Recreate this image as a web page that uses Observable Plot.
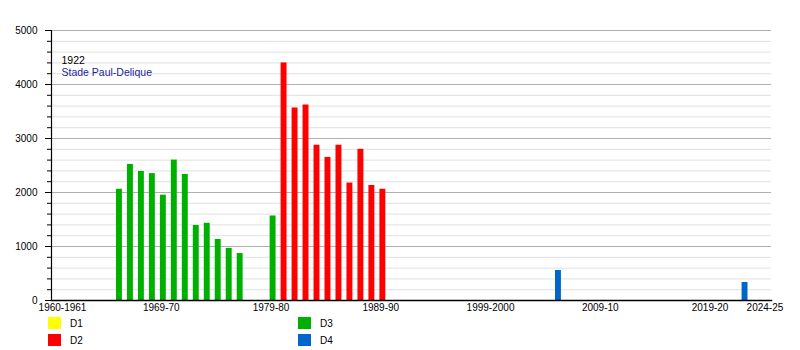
<!DOCTYPE html>
<html><head><meta charset="utf-8">
<script src="https://cdn.jsdelivr.net/npm/d3@7"></script>
<script src="https://cdn.jsdelivr.net/npm/@observablehq/plot@0.6"></script>
<style>
body{margin:0;background:#fff;font-family:"Liberation Sans",Arial,sans-serif;}
#wrap{position:relative;width:800px;height:350px;overflow:hidden;}
.sw{position:absolute;width:13px;height:12px;}
.lt{position:absolute;font-size:10px;color:#000;line-height:12px;}
</style></head><body><div id="wrap"></div>
<script>
// Season start years (e.g. 1965 = 1965-66)
const years = [1965,1966,1967,1968,1969,1970,1971,1972,1973,1974,1975,1976,
               1979,
               1980,1981,1982,1983,1984,1985,1986,1987,1988,1989,
               2005,2022];
const attendance = [2060,2520,2390,2350,1950,2600,2335,1390,1430,1130,965,870,
                    1565,
                    4400,3565,3620,2875,2650,2875,2175,2800,2130,2060,
                    556,334];
const divisionOf = ["D3","D3","D3","D3","D3","D3","D3","D3","D3","D3","D3","D3",
                    "D3",
                    "D2","D2","D2","D2","D2","D2","D2","D2","D2","D2",
                    "D4","D4"];
const divisionNames = ["D1","D2","D3","D4"];
const divisionColors = ["#ffff00","#ff0000","#00b000","#0066cc"];
const tickYears = [1960,1969,1979,1989,1999,2009,2019,2024];
const tickLabels = ["1960-1961","1969-70","1979-80","1989-90","1999-2000","2009-10","2019-20","2024-25"];
const majorTicks = [0,1000,2000,3000,4000,5000];
const minorTicks = [200,400,600,800,1200,1400,1600,1800,2200,2400,2600,2800,3200,3400,3600,3800,4200,4400,4600,4800];
const noteYear = "1922";
const noteStadium = "Stade Paul-Delique";

const data = years.map((y, i) => ({year: y, value: attendance[i], division: divisionOf[i]}));
const labelOf = new Map(tickYears.map((y, i) => [y, tickLabels[i]]));

const chart = Plot.plot({
  width: 800, height: 350,
  marginLeft: 51, marginRight: 29, marginTop: 30, marginBottom: 50,
  style: {fontFamily: '"Liberation Sans", Arial, sans-serif', fontSize: "10px", color: "#000", background: "transparent"},
  x: {domain: [1959, 2024.6], label: null},
  y: {domain: [0, 5000], label: null},
  color: {domain: divisionNames, range: divisionColors},
  marks: [
    Plot.ruleY(minorTicks, {stroke: "#e0e0e0", strokeWidth: 1}),
    Plot.ruleY(majorTicks.slice(1), {stroke: "#b0b0b0", strokeWidth: 1}),
    Plot.rectY(data, {x1: d => d.year - 0.08, x2: d => d.year + 0.46, y: "value", fill: "division", inset: 0}),
    Plot.axisY({ticks: majorTicks, tickSize: 6, tickPadding: 8, tickFormat: d => String(d), stroke: "#000", label: null}),
    Plot.axisY({ticks: minorTicks, tickSize: 4, tickFormat: () => "", stroke: "#000", label: null}),
    Plot.axisX({ticks: tickYears, tickSize: 0, tickPadding: 3, tickFormat: d => labelOf.get(d), label: null}),
    Plot.frame({anchor: "left", stroke: "#000", strokeWidth: 1.2}),
    Plot.frame({anchor: "bottom", stroke: "#000", strokeWidth: 1.5}),
    Plot.text([noteYear], {frameAnchor: "top-left", dx: 10, dy: 26, fill: "#000", fontSize: 10.5, textAnchor: "start"}),
    Plot.text([noteStadium], {frameAnchor: "top-left", dx: 10, dy: 38, fill: "#1c1ca0", fontSize: 10.5, textAnchor: "start"})
  ]
});
const wrap = document.getElementById("wrap");
chart.style.position = "absolute"; chart.style.left = "0"; chart.style.top = "0";
wrap.appendChild(chart);

// legend
const legendPos = [[48, 317], [48, 334], [298, 317], [298, 334]];
divisionNames.forEach((name, i) => {
  const [lx, ly] = legendPos[i];
  const sw = document.createElement("div");
  sw.className = "sw"; sw.style.left = lx + "px"; sw.style.top = ly + "px";
  sw.style.background = divisionColors[i];
  wrap.appendChild(sw);
  const t = document.createElement("div");
  t.className = "lt"; t.style.left = (lx + 22) + "px"; t.style.top = (ly + 1) + "px";
  t.textContent = name;
  wrap.appendChild(t);
});
</script></body></html>
